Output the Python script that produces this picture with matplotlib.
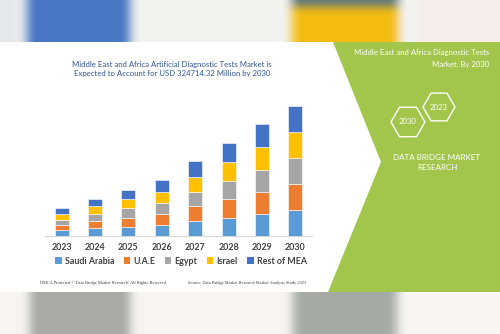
import numpy as np
import matplotlib
matplotlib.use("Agg")
import matplotlib.pyplot as plt
from matplotlib.patches import Polygon, Rectangle, RegularPolygon, Patch

years = ["2023", "2024", "2025", "2026", "2027", "2028", "2029", "2030"]
series_names = ["Saudi Arabia", "U.A.E", "Egypt", "Israel", "Rest of MEA"]
saudi_arabia = [17, 23, 27, 33, 44, 55, 66, 78]
uae = [16, 21, 28, 33, 45, 56, 67, 77]
egypt = [16, 22, 28, 33, 43, 55, 66, 78]
israel = [17, 23, 28, 33, 45, 56, 67, 78]
rest_of_mea = [17, 21, 28, 35, 46, 56, 68, 79]
series_values = [saudi_arabia, uae, egypt, israel, rest_of_mea]
colors = ["#5B9BD5", "#ED7D31", "#A5A5A5", "#FFC000", "#4472C4"]

title = "Middle East and Africa Artificial Diagnostic Tests Market is\nExpected to Account for USD 324714.32 Million by 2030"

W, H = 500, 334
fig = plt.figure(figsize=(W / 100, H / 100), dpi=100)

# ---------- background decoration ----------
bg = fig.add_axes([0, 0, 1, 1])
bg.set_xlim(0, W)
bg.set_ylim(H, 0)
bg.axis("off")


def blur(img, k=9):
    ker = np.ones(k) / k
    out = img.copy()
    for ax_ in (1, 0):
        pad = [(0, 0)] * 3
        pad[ax_] = (k // 2, k // 2)
        p = np.pad(out, pad, mode="edge")
        out = np.apply_along_axis(lambda v: np.convolve(v, ker, mode="valid"), ax_, p)
    return out


img = np.ones((H, W, 3))
top = np.ones((44, W, 3)) * np.array([0.95, 0.95, 0.94])
top[:, :20] = [0.90, 0.91, 0.92]
top[:, 420:] = [0.96, 0.93, 0.92]
top[:, 27:130] = [0.29, 0.47, 0.77]
top[:, 292:398] = [0.96, 0.74, 0.07]
top[:6, 292:398] = [0.30, 0.44, 0.54]
top = blur(blur(top, 13), 9)
img[:44] = top
bot = np.ones((H - 290, W, 3)) * np.array([0.97, 0.96, 0.95])
bot[:, 30:130] = [0.66, 0.67, 0.65]
bot[:, 293:397] = [0.65, 0.67, 0.65]
bot = blur(blur(bot, 13), 9)
img[290:] = bot
bg.imshow(img, extent=(0, W, H, 0), aspect="auto", zorder=0)

bg.add_patch(Rectangle((0, 42), W, 250, facecolor="white", edgecolor="none", zorder=1))
green = "#A2C64C"
bg.add_patch(Polygon([(333, 42), (W, 42), (W, 292), (328, 292), (381, 162)],
                     closed=True, facecolor=green, edgecolor="none", zorder=2))

# right panel text
tf = "Lato"
bg.text(489, 53, "Middle East and Africa Diagnostic Tests", ha="right", va="center",
        fontsize=5.6, color="white", family=tf, zorder=4)
bg.text(489, 64, "Market, By 2030", ha="right", va="center",
        fontsize=5.6, color="white", family=tf, zorder=4)
for (cx, cy, r, lab) in [(408, 122, 17, "2030"), (439, 107, 16, "2023")]:
    bg.add_patch(RegularPolygon((cx, cy), 6, radius=r, orientation=np.pi / 6,
                                facecolor="none", edgecolor="white", lw=1.0, zorder=4))
    bg.text(cx, cy, lab, ha="center", va="center", fontsize=5.6, color="white",
            family=tf, zorder=5)
bg.text(437, 157, "DATA BRIDGE MARKET", ha="center", va="center", fontsize=5.8,
        color="white", family=tf, zorder=4)
bg.text(437, 168, "RESEARCH", ha="center", va="center", fontsize=5.8,
        color="white", family=tf, zorder=4)

# title
bg.text(172, 69, title, ha="center", va="center", fontsize=5.6, color="#2F5597",
        family=tf, linespacing=1.35, zorder=4)

# footer
bg.text(40, 283, "DMCA Protected © Data Bridge Market Research- All Rights Reserved.",
        fontsize=3.2, family="Liberation Serif", color="#404040", va="center", zorder=4)
bg.text(188, 283, "Source: Data Bridge Market Research Market Analysis Study 2023",
        fontsize=3.2, family="Liberation Serif", color="#404040", va="center", zorder=4)

# ---------- chart ----------
ax = fig.add_axes([45 / W, (H - 236) / H, (312 - 45) / W, (236 - 100) / H])
ax.set_facecolor("none")
x = np.arange(len(years))
bottom = np.zeros(len(years))
for name, vals, c in zip(series_names, series_values, colors):
    ax.bar(x, vals, bottom=bottom, width=0.42, color=c, edgecolor="white",
           linewidth=0.4, label=name, zorder=3)
    bottom += np.array(vals)
ax.set_xlim(-0.5, len(years) - 0.5)
ax.set_ylim(0, 407)
ax.set_xticks(x)
ax.set_xticklabels(years, fontsize=6.4, fontweight="bold", color="#404040", family=tf)
ax.set_yticks([])
ax.tick_params(axis="x", length=0, pad=5)
for s in ["top", "left", "right"]:
    ax.spines[s].set_visible(False)
ax.spines["bottom"].set_color("#D9D9D9")
ax.spines["bottom"].set_linewidth(0.8)

handles = [Patch(facecolor=c, edgecolor="none") for c in colors]
leg = fig.legend(handles, series_names, loc="center", bbox_to_anchor=(181 / W, 1 - 261 / H),
                 ncol=5, frameon=False, handlelength=0.7, handleheight=0.7,
                 handletextpad=0.35, columnspacing=1.1,
                 prop={"family": tf, "size": 6.4, "weight": "bold"})
for t in leg.get_texts():
    t.set_color("#404040")

fig.savefig("out.png", dpi=100)
